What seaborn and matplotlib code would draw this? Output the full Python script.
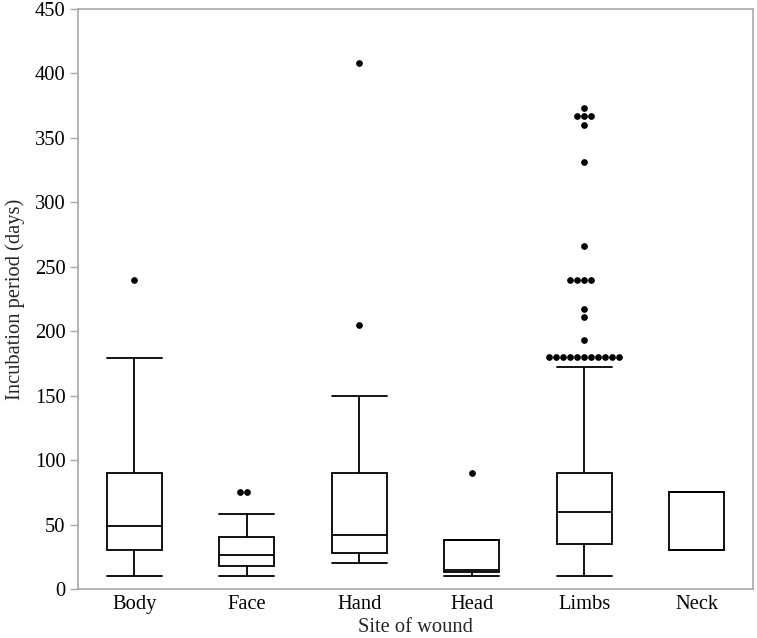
import numpy as np
import pandas as pd
import matplotlib
matplotlib.use("Agg")
import matplotlib.pyplot as plt
import seaborn as sns

# ---- data ----
sites = ["Body", "Face", "Hand", "Head", "Limbs", "Neck"]
whisker_low = [10, 10, 20, 10, 10, 30]
q1 = [30, 18, 28, 13, 35, 30]
median = [49, 26, 42, 15, 60, 75]
q3 = [90, 40, 90, 38, 90, 75]
whisker_high = [179, 58, 150, 38, 172, 75]

body_outliers = [240]
face_outliers = [75, 75]
hand_outliers = [205, 408]
head_outliers = [90]
limbs_outliers = [180] * 11 + [193, 211, 217] + [240] * 4 + [266, 331, 360] + [367] * 3 + [373]
neck_outliers = []
outliers = [body_outliers, face_outliers, hand_outliers, head_outliers, limbs_outliers, neck_outliers]

# ---- build a long table whose box statistics equal the values above ----
rows = []
for i, s in enumerate(sites):
    k = len(outliers[i]) + 1
    vals = ([whisker_low[i]] + [q1[i]] * k + [median[i]] * k + [q3[i]] * k
            + [whisker_high[i]] + list(outliers[i]))
    rows += [(s, v) for v in vals]
df = pd.DataFrame(rows, columns=["site", "days"])

out_rows = [(s, v) for s, o in zip(sites, outliers) for v in o]
df_out = pd.DataFrame(out_rows, columns=["site", "days"])

# ---- style ----
sns.set_style("white")
plt.rcParams["font.family"] = ["Liberation Serif", "DejaVu Serif"]
plt.rcParams["font.size"] = 14.8

W, H = 757, 638
fig = plt.figure(figsize=(W / 100, H / 100), dpi=100)
ax = fig.add_axes([78 / W, (H - 589) / H, (753 - 78) / W, (589 - 9) / H])

sns.boxplot(data=df, x="site", y="days", order=sites, color="white",
            linecolor="black", linewidth=1.3, width=0.49, showfliers=False,
            saturation=1, capwidths=0.49, ax=ax)
sns.swarmplot(data=df_out, x="site", y="days", order=sites, color="black",
              size=4.0, edgecolor="black", linewidth=0.8, ax=ax)

ax.set_ylim(0, 450)
ax.set_xlim(-0.5, 5.5)
ax.set_yticks(np.arange(0, 451, 50))
ax.set_xlabel("Site of wound", fontsize=14.8, labelpad=3)
ax.set_ylabel("Incubation period (days)", fontsize=14.8, labelpad=7)

grey = "#a8a8a8"
for sp in ax.spines.values():
    sp.set_visible(True)
    sp.set_color(grey)
    sp.set_linewidth(1.2)
ax.tick_params(axis="y", which="major", left=True, length=6, width=1,
               color=grey, pad=3, labelsize=14.8, labelcolor="black")
ax.tick_params(axis="x", which="major", bottom=False, length=0, pad=4,
               labelsize=14.8, labelcolor="black")

fig.savefig("out.png", dpi=100)
